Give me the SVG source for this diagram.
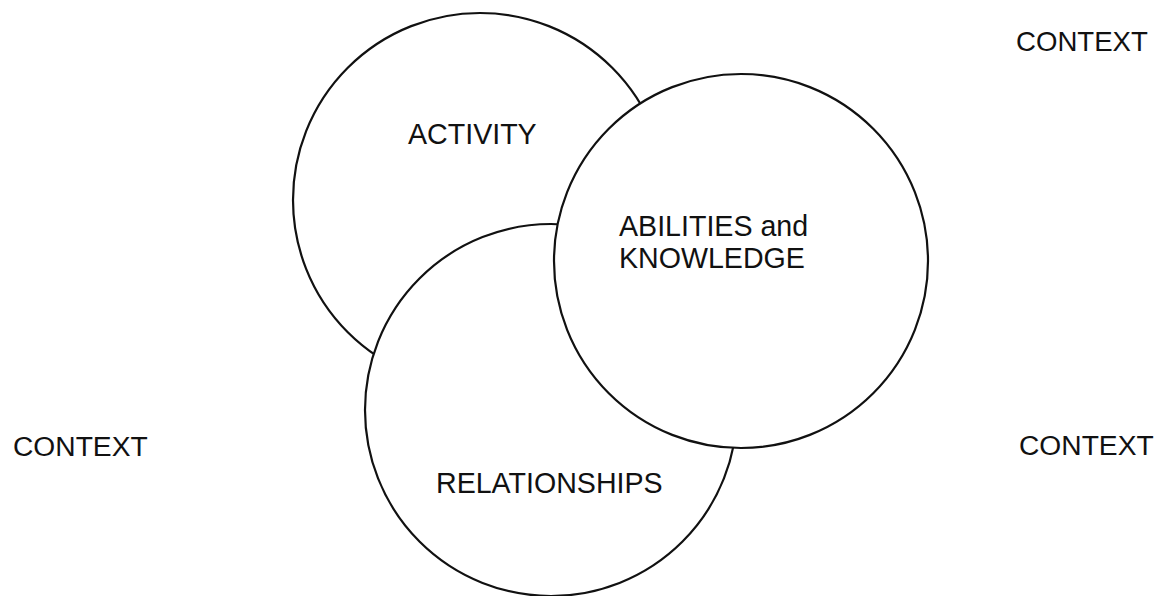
<svg xmlns="http://www.w3.org/2000/svg" width="1163" height="596" viewBox="0 0 1163 596">
<style>
.c{fill:#fff;stroke:#111;stroke-width:2.2}
.t{font-family:"Liberation Sans",Arial,sans-serif;font-size:28.6px;fill:#111}
.x{font-family:"Liberation Sans",Arial,sans-serif;font-size:28.2px;fill:#111}
</style>
<rect width="1163" height="596" fill="#fff"/>
<g id="activity"><circle class="c" cx="480" cy="200" r="187"/><text class="t" x="408" y="144">ACTIVITY</text></g>
<g id="relationships"><circle class="c" cx="551" cy="410" r="186"/><text class="t" x="436" y="493">RELATIONSHIPS</text></g>
<g id="abilities"><circle class="c" cx="741" cy="261" r="187"/><text class="t" x="619" y="236">ABILITIES and</text><text class="t" x="619" y="268">KNOWLEDGE</text></g>
<g id="context-top-right"><text class="x" x="1016" y="51" style="font-size:27.6px">CONTEXT</text></g>
<g id="context-left"><text class="x" x="13" y="456">CONTEXT</text></g>
<g id="context-right"><text class="x" x="1019" y="455">CONTEXT</text></g>
<g id="connectors"></g>
</svg>
